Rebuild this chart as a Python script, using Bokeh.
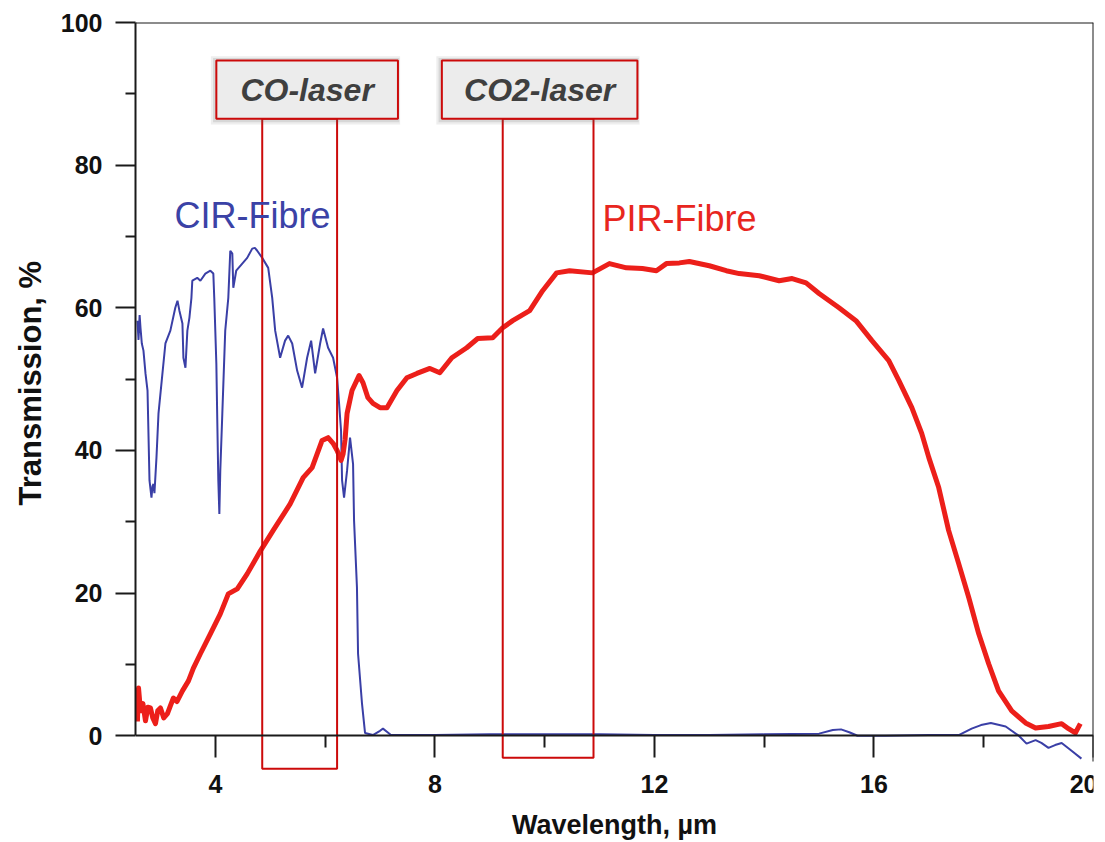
from bokeh.plotting import figure
from bokeh.models import Range1d, LinearAxis, FixedTicker, ColumnDataSource, Title
from bokeh.core.properties import value
from bokeh.embed import file_html
from bokeh.resources import INLINE

# ---------------- data ----------------
cir_x = [2.58, 2.60, 2.62, 2.636, 2.66, 2.69, 2.727, 2.764, 2.78, 2.80, 2.836, 2.855, 2.873, 2.89,
         2.927, 2.964, 3.036, 3.09, 3.18, 3.27, 3.31, 3.345, 3.40, 3.418, 3.455, 3.49, 3.527, 3.564,
         3.58, 3.67, 3.727, 3.818, 3.909, 3.963, 3.98, 4.018, 4.036, 4.054, 4.073, 4.09, 4.127, 4.18,
         4.236, 4.272, 4.309, 4.327, 4.38, 4.49, 4.58, 4.672, 4.72, 4.763, 4.854, 4.963, 5.036, 5.09,
         5.18, 5.27, 5.327, 5.40, 5.49, 5.58, 5.672, 5.745, 5.818, 5.909, 5.963, 6.054, 6.145, 6.218,
         6.254, 6.29, 6.309, 6.345, 6.40, 6.454, 6.509, 6.527, 6.58, 6.60, 6.672, 6.727, 6.87, 7.0,
         7.054, 7.12, 7.2, 8.0, 9.0, 10.0, 11.0, 12.0, 13.0, 14.0, 15.0, 15.25, 15.4, 15.55, 15.7,
         16.2, 17.0, 17.545, 17.78, 17.95, 18.13, 18.4, 18.64, 18.78, 18.945, 19.05, 19.18, 19.30,
         19.42, 19.6, 19.78]
cir_y = [58.2, 55.5, 59.0, 57.2, 55.0, 54.0, 50.8, 48.4, 42.8, 35.8, 33.4, 35.0, 35.3, 34.0,
         39.0, 45.2, 50.8, 55.0, 56.8, 60.0, 61.0, 59.6, 57.8, 53.0, 51.6, 56.8, 58.6, 61.4,
         63.8, 64.2, 63.8, 64.8, 65.2, 64.8, 61.4, 52.2, 43.8, 35.8, 31.1, 37.2, 45.2, 56.8,
         61.4, 68.0, 67.6, 62.8, 65.2, 66.2, 67.0, 68.3, 68.4, 68.0, 67.0, 65.6, 61.4, 56.8,
         53.0, 55.4, 56.1, 55.0, 51.2, 48.8, 53.0, 55.4, 50.8, 55.0, 57.1, 54.4, 53.0, 50.2,
         46.6, 42.8, 35.8, 33.4, 37.2, 41.8, 38.1, 30.2, 20.8, 11.5, 4.5, 0.4, 0.1, 0.7,
         1.0, 0.6, 0.1, 0.1, 0.2, 0.2, 0.2, 0.1, 0.1, 0.2, 0.3, 0.8, 0.9, 0.5, 0.0,
         0.0, 0.1, 0.1, 1.0, 1.5, 1.8, 1.3, 0.0, -1.1, -0.6, -1.0, -1.7, -1.3,
         -1.0, -2.1, -3.2]

pir_x = [2.58, 2.60, 2.636, 2.68, 2.727, 2.77, 2.818, 2.86, 2.909, 2.95, 3.0, 3.06, 3.127, 3.18,
         3.236, 3.3, 3.4, 3.51, 3.6, 3.727, 3.909, 4.09, 4.236, 4.4, 4.58, 4.818, 5.054, 5.363,
         5.6, 5.763, 5.945, 6.054, 6.145, 6.218, 6.272, 6.29, 6.327, 6.363, 6.4, 6.49, 6.618,
         6.69, 6.78, 6.872, 7.0, 7.127, 7.309, 7.49, 7.672, 7.909, 8.09, 8.309, 8.58, 8.78, 9.054,
         9.236, 9.418, 9.727, 9.963, 10.218, 10.454, 10.872, 11.18, 11.49, 11.78, 12.036, 12.218,
         12.454, 12.636, 13.0, 13.309, 13.545, 13.909, 14.272, 14.509, 14.763, 15.0, 15.363,
         15.672, 15.963, 16.27, 16.454, 16.69, 16.87, 17.0, 17.18, 17.36, 17.545, 17.727, 17.909,
         18.09, 18.27, 18.51, 18.763, 18.945, 19.18, 19.42, 19.545, 19.67, 19.76]
pir_y = [2.0, 6.7, 3.5, 4.5, 2.1, 4.0, 3.9, 2.5, 1.7, 3.5, 3.9, 2.5, 3.1, 4.2,
         5.3, 4.8, 6.3, 7.7, 9.5, 11.5, 14.3, 17.1, 19.9, 20.6, 22.7, 25.9, 28.8, 32.5,
         36.2, 37.6, 41.4, 41.8, 41.0, 40.0, 39.0, 38.6, 39.5, 41.5, 45.2, 48.4, 50.5,
         49.5, 47.4, 46.6, 46.0, 46.0, 48.4, 50.2, 50.8, 51.5, 50.9, 53.0, 54.4, 55.7, 55.8,
         57.2, 58.2, 59.6, 62.4, 64.9, 65.2, 64.9, 66.2, 65.6, 65.5, 65.2, 66.2,
         66.3, 66.5, 65.9, 65.2, 64.8, 64.5, 63.8, 64.1, 63.5, 62.0, 60.0,
         58.2, 55.4, 52.6, 49.8, 46.0, 42.4, 39.0, 34.8, 28.8, 24.1, 19.4, 14.3,
         10.1, 6.3, 3.5, 1.8, 1.1, 1.3, 1.7, 1.0, 0.4, 1.7]

laser_names = ["CO-laser", "CO2-laser"]
band_left = [4.854, 9.236]
band_right = [6.218, 10.89]
band_bottom = [-4.63, -3.09]
box_left = [4.018, 8.127]
box_right = [7.327, 11.69]
box_bottom = [86.5, 86.5]
box_top = [94.67, 94.67]

fibre_names = ["CIR-Fibre", "PIR-Fibre"]
fibre_label_x = [3.254, 11.054]
fibre_label_y = [72.9, 72.5]
fibre_colors = ["#3b42a6", "#e8261e"]

x_major = [4, 8, 12, 16, 20]
x_minor = [6, 10, 14, 18]
y_major = [0, 20, 40, 60, 80, 100]
y_minor = [10, 30, 50, 70, 90]

x_title = "Wavelength, µm"
y_title = "Transmission, %"

# ---------------- figure ----------------
FONT = "Liberation Sans"
p = figure(width=1097, height=842, output_backend="svg", toolbar_location=None,
           x_range=Range1d(2.545, 20), y_range=Range1d(-14.96, 100),
           x_axis_location=None, y_axis_location=None,
           min_border_left=135, min_border_right=4, min_border_top=22, min_border_bottom=0)
p.background_fill_color = "white"
p.border_fill_color = "white"
p.outline_line_color = None
p.xgrid.visible = False
p.ygrid.visible = False

xax = LinearAxis(fixed_location=0, ticker=FixedTicker(ticks=x_major, minor_ticks=x_minor),
                 axis_label=x_title)
yax = LinearAxis(bounds=(0, 100), ticker=FixedTicker(ticks=y_major, minor_ticks=y_minor))
for ax in (xax, yax):
    ax.axis_line_width = 2
    ax.axis_line_color = "#1a1a1a"
    ax.major_tick_line_width = 2
    ax.minor_tick_line_width = 2
    ax.major_tick_line_color = "#1a1a1a"
    ax.minor_tick_line_color = "#1a1a1a"
    ax.major_tick_in = 0
    ax.minor_tick_in = 0
    ax.major_label_text_font = FONT
    ax.major_label_text_font_style = "bold"
    ax.major_label_text_color = "#111111"
    ax.axis_label_text_font = FONT
    ax.axis_label_text_font_style = "bold"
    ax.axis_label_text_color = "#111111"
xax.major_tick_out = 22
xax.minor_tick_out = 12
xax.major_label_text_font_size = "25px"
xax.major_label_standoff = 17
xax.axis_label_text_font_size = "27px"
xax.axis_label_standoff = 14
yax.major_tick_out = 20
yax.minor_tick_out = 10
yax.major_label_text_font_size = "25px"
yax.major_label_standoff = 13
p.add_layout(xax, "below")
p.add_layout(yax, "left")

# y-axis title in the left panel, placed along the 0..100 span of the axis
p.add_layout(Title(text=y_title, align="left", offset=337, standoff=20,
                   text_font=FONT, text_font_style="bold", text_font_size="31px",
                   text_color="#111111"), "left")

# top and right frame lines
tax = LinearAxis(fixed_location=100, ticker=FixedTicker(ticks=[]), major_label_text_font_size="0px")
rax = LinearAxis(fixed_location=20, bounds=(-3.6, 100), ticker=FixedTicker(ticks=[]),
                 major_label_text_font_size="0px")
for ax in (tax, rax):
    ax.axis_line_width = 2
    ax.axis_line_color = "#1a1a1a"
    ax.major_tick_out = 0
    ax.major_tick_in = 0
    ax.minor_tick_out = 0
    ax.minor_tick_in = 0
p.add_layout(tax, "above")
p.add_layout(rax, "right")

# curves
p.line(cir_x, cir_y, line_color="#3a3fa6", line_width=2)
p.line(pir_x, pir_y, line_color="#ec1f1a", line_width=5, line_join="round")

# laser bands and label boxes
cx = [(a + b) / 2 for a, b in zip(box_left, box_right)]
cy = [(a + b) / 2 for a, b in zip(box_bottom, box_top)]
src = ColumnDataSource(dict(name=laser_names, bl=band_left, br=band_right, bb=band_bottom,
                            xl=box_left, xr=box_right, yb=box_bottom, yt=box_top, cx=cx, cy=cy))
p.quad(left="bl", right="br", bottom="bb", top="yb", source=src,
       fill_color=None, line_color="#cc0a0a", line_width=2)
# soft drop shadow behind the label boxes
for k, a in ((0.10, 0.10), (0.06, 0.15)):
    sh = ColumnDataSource(dict(l=[v - k for v in box_left], r=[v + k * 0.4 for v in box_right],
                               b=[v - k * 8 for v in box_bottom], t=[v + k * 6 for v in box_top]))
    p.quad(left="l", right="r", bottom="b", top="t", source=sh,
           fill_color="#555555", fill_alpha=a, line_color=None)
p.quad(left="xl", right="xr", bottom="yb", top="yt", source=src,
       fill_color="#ececec", line_color="#cc0a0a", line_width=2)
p.text(x="cx", y="cy", text="name", source=src, text_align="center", text_baseline="middle",
       text_font=value(FONT), text_font_style="bold italic", text_font_size="32px",
       text_color="#3f3f3f")

# fibre labels
fsrc = ColumnDataSource(dict(x=fibre_label_x, y=fibre_label_y, t=fibre_names, c=fibre_colors))
p.text(x="x", y="y", text="t", source=fsrc, text_color="c", text_align="left",
       text_baseline="middle", text_font=value(FONT), text_font_size="36px")

open("out.html", "w").write(file_html(p, INLINE))
